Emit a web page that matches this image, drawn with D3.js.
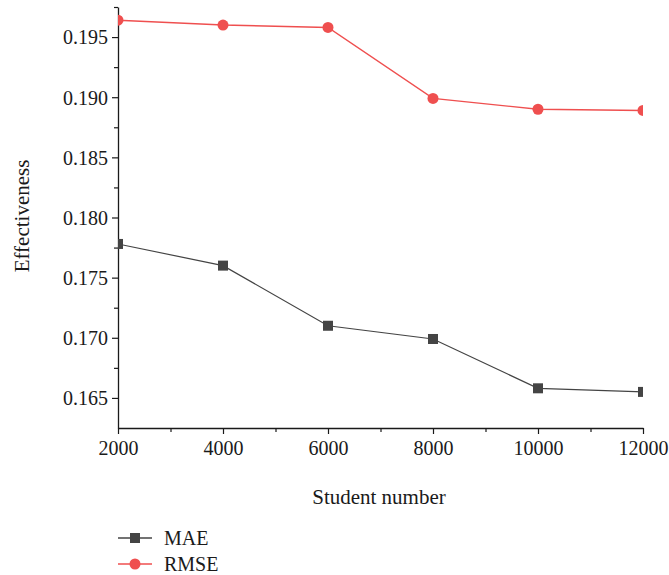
<!DOCTYPE html>
<html>
<head>
<meta charset="utf-8">
<script src="https://cdn.jsdelivr.net/npm/d3@7"></script>
<style>
  body { margin: 0; background: #fff; }
  svg text { font-family: 'Liberation Serif', 'DejaVu Serif', serif; fill: #1a1a1a; }
</style>
</head>
<body>
<svg id="chart" width="669" height="575"></svg>
<script>
const studentNumbers = [2000, 4000, 6000, 8000, 10000, 12000]
const maeValues = [0.1778, 0.1760, 0.1710, 0.1699, 0.1658, 0.1655]
const rmseValues = [0.1964, 0.1960, 0.1958, 0.1899, 0.1890, 0.1889]
const yTickValues = [0.165, 0.170, 0.175, 0.180, 0.185, 0.190, 0.195]

const svg = d3.select('#chart')
const plotLeft = 118, plotRight = 643, plotTop = 7, plotBottom = 428

const x = d3.scaleLinear().domain([2000, 12000]).range([plotLeft, plotRight])
const y = d3.scaleLinear().domain([0.1625, 0.1975]).range([plotBottom, plotTop])

// clip so the end markers get cut at the axes like the original
svg.append('clipPath').attr('id', 'plot-clip')
  .append('rect')
  .attr('x', plotLeft).attr('y', 0)
  .attr('width', plotRight - plotLeft).attr('height', plotBottom)

// x axis
const xAxis = svg.append('g')
  .attr('transform', 'translate(0,' + plotBottom + ')')
  .call(d3.axisBottom(x).tickValues(studentNumbers).tickFormat(d3.format('d')).tickSize(6).tickSizeOuter(0))
xAxis.append('g')
  .call(d3.axisBottom(x).tickValues([3000, 5000, 7000, 9000, 11000]).tickFormat('').tickSize(4).tickSizeOuter(0))
  .select('.domain').remove()

// y axis
const yAxis = svg.append('g')
  .attr('transform', 'translate(' + plotLeft + ',0)')
  .call(d3.axisLeft(y).tickValues(yTickValues).tickFormat(d3.format('.3f')).tickSize(6).tickSizeOuter(0))
yAxis.append('g')
  .call(d3.axisLeft(y).tickValues([0.1675, 0.1725, 0.1775, 0.1825, 0.1875, 0.1925, 0.1975]).tickFormat('').tickSize(4).tickSizeOuter(0))
  .select('.domain').remove()

svg.selectAll('.domain').attr('stroke', '#1a1a1a').attr('stroke-width', 1.3)
svg.selectAll('.tick line').attr('stroke', '#1a1a1a').attr('stroke-width', 1.2)
svg.selectAll('.tick text').style('font-size', '20px').attr('fill', '#1a1a1a')
xAxis.selectAll('.tick text').attr('y', 27).attr('dy', 0)
yAxis.selectAll('.tick text').attr('x', -10).attr('dy', '0.34em')

// axis titles
svg.append('text')
  .attr('x', 379).attr('y', 504)
  .attr('text-anchor', 'middle')
  .style('font-size', '21px')
  .text('Student number')

svg.append('text')
  .attr('transform', 'translate(29,216) rotate(-90)')
  .attr('text-anchor', 'middle')
  .style('font-size', '21px')
  .text('Effectiveness')

const line = d3.line()
  .x((d, i) => x(studentNumbers[i]))
  .y(d => y(d))

const plot = svg.append('g').attr('clip-path', 'url(#plot-clip)')

const maeColor = '#444444'
const rmseColor = '#ef4f4f'

plot.append('path')
  .datum(maeValues)
  .attr('fill', 'none')
  .attr('stroke', maeColor)
  .attr('stroke-width', 1.2)
  .attr('d', line)

plot.selectAll('.mae')
  .data(maeValues)
  .enter().append('rect')
  .attr('class', 'mae')
  .attr('x', (d, i) => x(studentNumbers[i]) - 5)
  .attr('y', d => y(d) - 5)
  .attr('width', 10)
  .attr('height', 10)
  .attr('fill', maeColor)

plot.append('path')
  .datum(rmseValues)
  .attr('fill', 'none')
  .attr('stroke', rmseColor)
  .attr('stroke-width', 1.4)
  .attr('d', line)

plot.selectAll('.rmse')
  .data(rmseValues)
  .enter().append('circle')
  .attr('class', 'rmse')
  .attr('cx', (d, i) => x(studentNumbers[i]))
  .attr('cy', d => y(d))
  .attr('r', 5.5)
  .attr('fill', rmseColor)

// legend
const legend = svg.append('g')
const items = [
  { name: 'MAE', color: maeColor, shape: 'square', y: 538 },
  { name: 'RMSE', color: rmseColor, shape: 'circle', y: 564 }
]
items.forEach(it => {
  legend.append('line')
    .attr('x1', 118).attr('x2', 152)
    .attr('y1', it.y).attr('y2', it.y)
    .attr('stroke', it.color).attr('stroke-width', 1.4)
  if (it.shape === 'square') {
    legend.append('rect')
      .attr('x', 130).attr('y', it.y - 5)
      .attr('width', 10).attr('height', 10)
      .attr('fill', it.color)
  } else {
    legend.append('circle')
      .attr('cx', 135).attr('cy', it.y).attr('r', 5.5)
      .attr('fill', it.color)
  }
  legend.append('text')
    .attr('x', 164).attr('y', it.y + 7)
    .style('font-size', '20px')
    .text(it.name)
})
</script>
</body>
</html>
